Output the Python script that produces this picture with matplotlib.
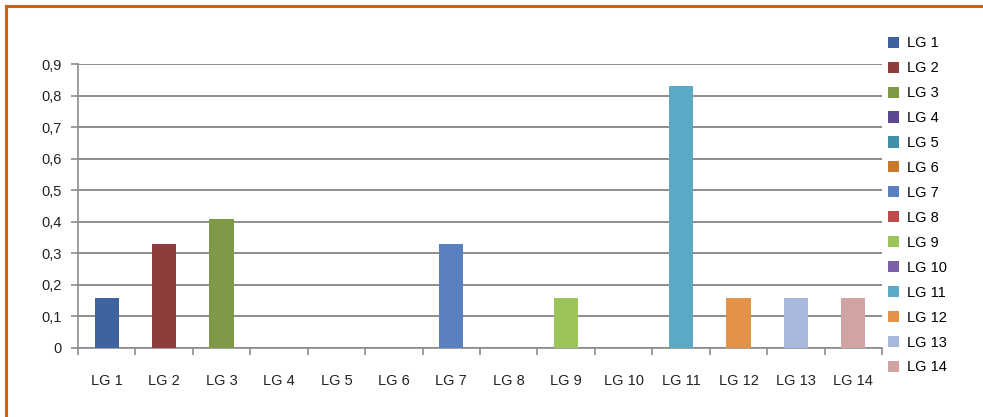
import matplotlib
matplotlib.use("Agg")
import matplotlib.pyplot as plt
from matplotlib.patches import Patch
from matplotlib.lines import Line2D

categories = ["LG 1", "LG 2", "LG 3", "LG 4", "LG 5", "LG 6", "LG 7",
              "LG 8", "LG 9", "LG 10", "LG 11", "LG 12", "LG 13", "LG 14"]
values = [0.16, 0.33, 0.41, 0, 0, 0, 0.33, 0, 0.16, 0, 0.83, 0.16, 0.16, 0.16]
colors = ["#3f62a0", "#8e3c3c", "#7f9a46", "#5b4a90", "#3f8fa8", "#c8782f",
          "#5a80c2", "#c04c4a", "#9dc35b", "#7c60a8", "#5aaac6", "#e39348",
          "#a8b8dc", "#d1a3a3"]
yticks = [0, 0.1, 0.2, 0.3, 0.4, 0.5, 0.6, 0.7, 0.8, 0.9]

plt.rcParams['font.family'] = ['Liberation Sans', 'DejaVu Sans']

fig = plt.figure(figsize=(9.83, 4.17), dpi=100)
ax = fig.add_axes([0.0793, 0.1655, 0.818, 0.681])

x = list(range(len(categories)))
ax.bar(x, values, width=0.42, color=colors, zorder=3)

ax.set_xlim(-0.5, len(categories) - 0.5)
ax.set_ylim(0, 0.9)
ax.set_yticks(yticks)
ax.set_yticklabels([("%.1f" % v).replace(".", ",") if v else "0" for v in yticks])
ax.yaxis.grid(True, color="#8c8c8c", linewidth=1.4, zorder=0)
ax.set_axisbelow(True)

ax.set_xticks(x)
ax.set_xticklabels(categories)
ax.tick_params(axis="x", length=0, pad=19, labelsize=10.5, colors="#222222")
ax.set_xticks([i + 0.5 for i in range(-1, len(categories))], minor=True)
ax.tick_params(axis="x", which="minor", length=5, width=1.2, color="#8c8c8c", direction="out")
ax.tick_params(axis="y", length=5, width=1.2, color="#8c8c8c", labelsize=10.5, labelcolor="#222222", pad=7)

for s in ["top", "right"]:
    ax.spines[s].set_visible(False)
for s in ["left", "bottom"]:
    ax.spines[s].set_color("#8c8c8c")
    ax.spines[s].set_linewidth(1.2)

handles = [Patch(facecolor=c, edgecolor="none") for c in colors]
fig.legend(handles, categories, loc="upper left", bbox_to_anchor=(0.903, 0.913),
           frameon=False, fontsize=10.5, handlelength=0.8, handleheight=0.8,
           handletextpad=0.5, labelspacing=0.75, borderaxespad=0, borderpad=0)

# orange frame (top and left edges)
fig.add_artist(Line2D([0.006, 1.0], [0.985, 0.985], transform=fig.transFigure,
                      color="#c5631a", linewidth=2.2))
fig.add_artist(Line2D([0.006, 0.006], [0.0, 0.985], transform=fig.transFigure,
                      color="#c5631a", linewidth=2.2))

fig.savefig("out.png", dpi=100)
